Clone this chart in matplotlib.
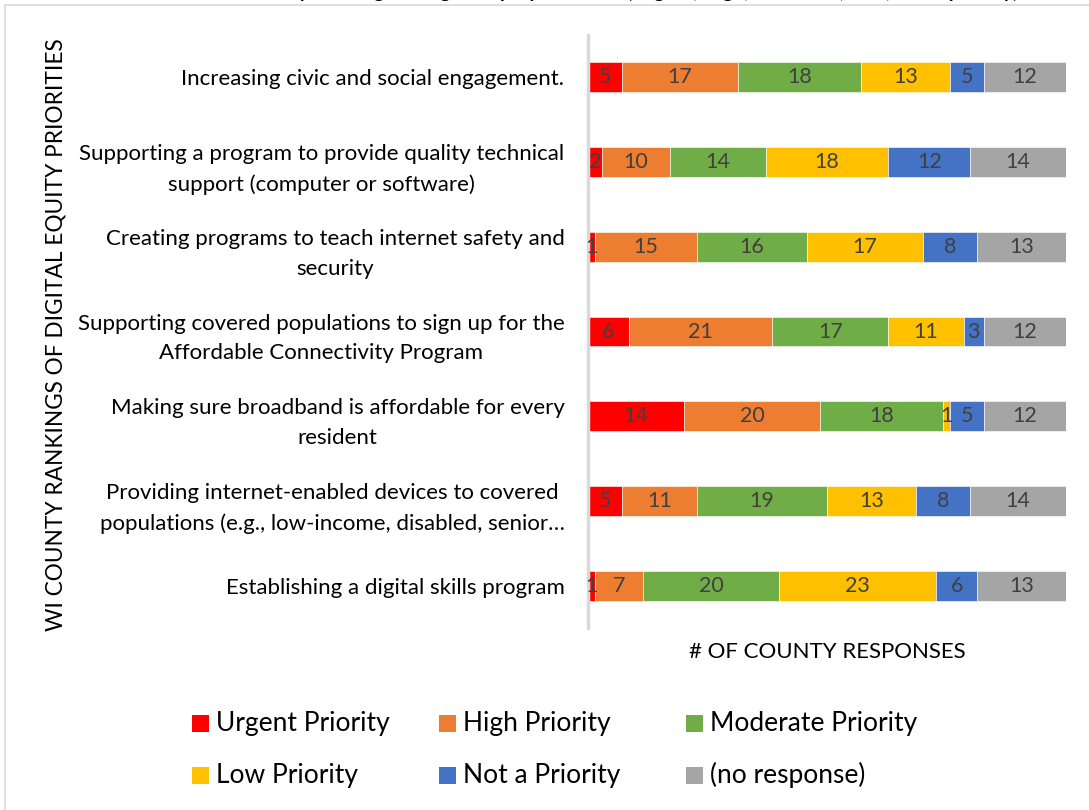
#!/usr/bin/env python3
"""Digital equity priorities by WI county, stacked horizontal bars."""
import matplotlib
matplotlib.use("Agg")
import matplotlib.pyplot as plt
from matplotlib import font_manager
from matplotlib.patches import Rectangle

# --- Data ---
categories = [
    "Increasing civic and social engagement.",
    "Supporting a program to provide quality technical\nsupport (computer or software)",
    "Creating programs to teach internet safety and\nsecurity",
    "Supporting covered populations to sign up for the\nAffordable Connectivity Program",
    "Making sure broadband is affordable for every\nresident",
    "Providing internet-enabled devices to covered\npopulations (e.g., low-income, disabled, senior\u2026",
    "Establishing a digital skills program",
]
series = ["Urgent Priority", "High Priority", "Moderate Priority",
          "Low Priority", "Not a Priority", "(no response)"]
urgent       = [5, 2, 1, 6, 14, 5, 1]
high         = [17, 10, 15, 21, 20, 11, 7]
moderate     = [18, 14, 16, 17, 18, 19, 20]
low          = [13, 18, 17, 11, 1, 13, 23]
not_priority = [5, 12, 8, 3, 5, 8, 6]
no_response  = [12, 14, 13, 12, 12, 14, 13]
values = [urgent, high, moderate, low, not_priority, no_response]

# --- Style ---
colors = ["#FF0000", "#ED7D31", "#70AD47", "#FFC000", "#4472C4", "#A5A5A5"]
FONT = "Lato"
available = {f.name for f in font_manager.fontManager.ttflist}
NARROW = "Liberation Sans Narrow" if "Liberation Sans Narrow" in available else FONT
plt.rcParams["font.family"] = [FONT, "DejaVu Sans"]

W, H = 1089, 810
fig = plt.figure(figsize=(W / 100, H / 100), dpi=100)

# chart area border (cropped on the right and bottom)
fig.patches.append(Rectangle((5 / W, -0.05), 1.2, (805 / H) + 0.05, transform=fig.transFigure,
                             fill=False, edgecolor="#D9D9D9", linewidth=1.2))

# title: in the source picture only its descenders show at the top edge
fig.text(0.58, 1 + 2 / H, "County Rankings of Digital Equity Priorities (Urgent, High, Moderate, Low, Not a priority)",
         ha="center", va="baseline", fontsize=14, fontweight="bold")

ax = fig.add_axes([588 / W, 1 - 628 / H, (1066 - 588) / W, (628 - 35) / H])

ypos = list(range(len(categories)))
left = [0] * len(categories)
for name, vals, color in zip(series, values, colors):
    bars = ax.barh(ypos, vals, left=left, height=0.353, color=color,
                   edgecolor="white", linewidth=0.4, label=name)
    ax.bar_label(bars, label_type="center", color="#404040", fontsize=15.5)
    left = [a + b for a, b in zip(left, vals)]

ax.set_xlim(0, max(left))
ax.set_ylim(len(categories) - 0.5, -0.5)
ax.set_xticks([])
ax.set_yticks(ypos, categories)
for t in ax.get_yticklabels():
    t.set_multialignment("center")
    t.set_linespacing(1.62)
ax.tick_params(axis="y", length=0, pad=17, labelsize=16)

for side in ("top", "right", "bottom"):
    ax.spines[side].set_visible(False)
ax.spines["left"].set_color("#D9D9D9")
ax.spines["left"].set_linewidth(2.5)

ax.set_xlabel("# OF COUNTY RESPONSES", fontsize=16, labelpad=10)
fig.text(56 / W, 1 - 335 / H, "WI COUNTY RANKINGS OF DIGITAL EQUITY PRIORITIES",
         rotation=90, ha="center", va="center", fontsize=16.3, family=[NARROW, "DejaVu Sans"])

# legend, drawn like the Excel one: equal column widths
for i, (name, color) in enumerate(zip(series, colors)):
    col, row = i % 3, i // 3
    x0 = 192 + col * 247
    yc = 723 + row * 52
    fig.patches.append(Rectangle((x0 / W, 1 - (yc + 8.5) / H), 17 / W, 17 / H,
                                 transform=fig.transFigure, facecolor=color, edgecolor="none"))
    fig.text((x0 + 24) / W, 1 - yc / H, name, ha="left", va="center", fontsize=19)

fig.savefig("out.png", dpi=100)
